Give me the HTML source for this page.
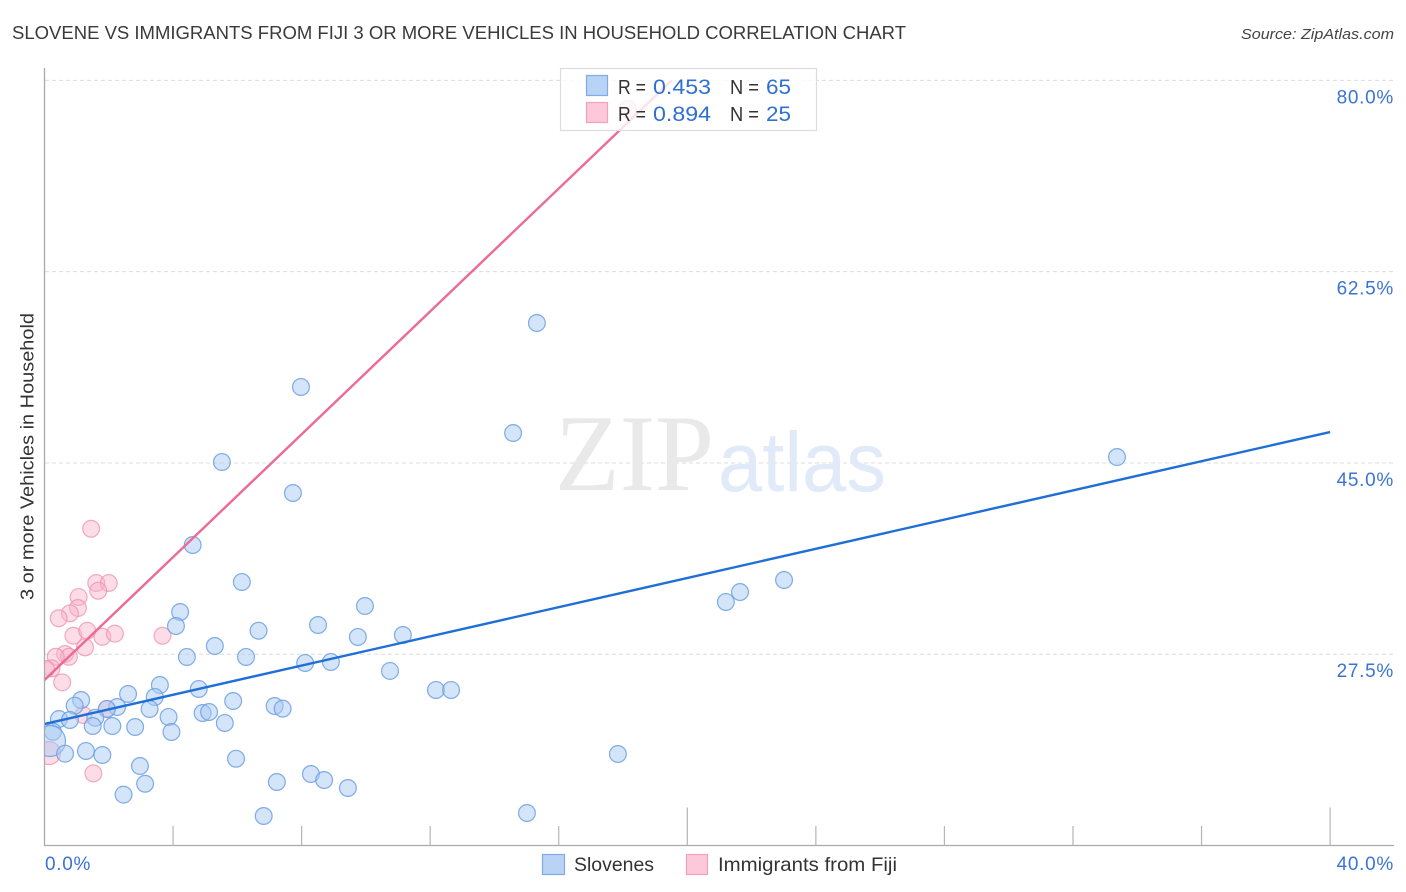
<!DOCTYPE html>
<html>
<head>
<meta charset="utf-8">
<title>Slovene vs Immigrants from Fiji chart</title>
<style>
html,body{margin:0;padding:0;background:#fff;width:1406px;height:892px;overflow:hidden}
svg{display:block;font-family:"Liberation Sans",sans-serif}
</style>
</head>
<body>
<svg id="chart" xmlns="http://www.w3.org/2000/svg" width="1406" height="892" viewBox="0 0 1406 892">
  <defs><clipPath id="plot-clip"><rect x="45" y="60" width="1350" height="785"/></clipPath></defs>
  <text x="12" y="39" font-size="18.6" fill="#3a3a3a" textLength="894" lengthAdjust="spacingAndGlyphs">SLOVENE VS IMMIGRANTS FROM FIJI 3 OR MORE VEHICLES IN HOUSEHOLD CORRELATION CHART</text>
  <text x="1394" y="39" font-size="15" font-style="italic" fill="#444" text-anchor="end" textLength="153" lengthAdjust="spacingAndGlyphs">Source: ZipAtlas.com</text>
  <g id="grid"></g>
  <g>
    <text x="555" y="490" font-family="'Liberation Serif',serif" font-size="109" fill="#e9e9e9" textLength="159" lengthAdjust="spacingAndGlyphs">ZIP</text>
    <text x="718" y="491" font-size="84" fill="#e0eaf8" textLength="168" lengthAdjust="spacingAndGlyphs">atlas</text>
  </g>
  <g id="axes"></g>
  <g id="marks" clip-path="url(#plot-clip)"></g>
  <g>
    <rect x="560.5" y="68.5" width="256" height="62" fill="#fff" fill-opacity="0.8" stroke="#dcdcdc" stroke-width="1.2"/>
    <rect x="586.5" y="75.5" width="21" height="20" fill="#b9d3f5" stroke="#7fabe6" stroke-width="1.2"/>
    <rect x="586.5" y="102.5" width="21" height="20" fill="#fdc8d9" stroke="#f2a2bc" stroke-width="1.2"/>
    <g font-size="20" fill="#333">
      <text x="618" y="94" textLength="28" lengthAdjust="spacingAndGlyphs">R =</text>
      <text x="730" y="94" textLength="29" lengthAdjust="spacingAndGlyphs">N =</text>
      <text x="618" y="121" textLength="28" lengthAdjust="spacingAndGlyphs">R =</text>
      <text x="730" y="121" textLength="29" lengthAdjust="spacingAndGlyphs">N =</text>
    </g>
    <g font-size="21" fill="#3070d2">
      <text x="653" y="94" textLength="58" lengthAdjust="spacingAndGlyphs">0.453</text>
      <text x="766" y="94" textLength="25" lengthAdjust="spacingAndGlyphs">65</text>
      <text x="653" y="121" textLength="58" lengthAdjust="spacingAndGlyphs">0.894</text>
      <text x="766" y="121" textLength="25" lengthAdjust="spacingAndGlyphs">25</text>
    </g>
  </g>
  <g>
    <rect x="542.5" y="854.5" width="22" height="20" fill="#b9d3f5" stroke="#7fabe6" stroke-width="1.2"/>
    <text x="574" y="871" font-size="19.5" fill="#333" textLength="80" lengthAdjust="spacingAndGlyphs">Slovenes</text>
    <rect x="686.5" y="854.5" width="21" height="20" fill="#fdc8d9" stroke="#f2a2bc" stroke-width="1.2"/>
    <text x="718" y="871" font-size="19.5" fill="#333" textLength="179" lengthAdjust="spacingAndGlyphs">Immigrants from Fiji</text>
  </g>
  <text transform="translate(33.5,600) rotate(-90)" font-size="18.5" fill="#333" textLength="287" lengthAdjust="spacingAndGlyphs">3 or more Vehicles in Household</text>
</svg>
<script>
const xTickValues = [4, 8, 12, 16, 20, 24, 28, 32, 36, 40];
const xMajorTicks = [20, 40];
const xEndLabels = ["0.0%", "40.0%"];
const yTickValues = [80, 62.5, 45, 27.5];
const yTickLabels = ["80.0%", "62.5%", "45.0%", "27.5%"];

const sloveneX = [15.32,7.98,14.58,33.37,5.52,7.73,4.61,6.14,23.01,21.64,21.20,9.97,4.22,4.09,8.51,6.66,9.75,11.15,5.30,4.43,6.27,8.11,8.91,10.75,12.18,12.65,4.80,3.59,2.60,3.43,1.14,5.87,0.94,2.26,1.94,3.27,7.16,7.41,4.92,5.12,3.86,1.58,0.45,0.79,5.61,1.50,2.11,2.82,3.95,0.26,0.17,0.64,1.29,1.80,17.84,5.96,2.97,8.29,8.70,7.23,3.13,9.44,2.46,15.01,6.82];
const sloveneY = [57.80,51.95,47.74,45.54,45.09,42.25,37.49,34.11,34.29,33.19,32.28,31.91,31.36,30.08,30.17,29.65,29.08,29.26,28.25,27.25,27.25,26.70,26.79,25.97,24.23,24.23,24.32,24.68,23.86,23.59,23.31,23.22,22.79,22.67,22.49,22.49,22.76,22.52,22.12,22.21,21.76,21.69,21.57,21.48,21.21,20.93,20.93,20.84,20.38,20.41,19.56,18.40,18.65,18.28,18.37,17.94,17.27,16.54,15.99,15.81,15.65,15.26,14.65,12.97,12.70];
const sloveneWeight = [1,1,1,1,1,1,1,1,1,1,1,1,1,1,1,1,1,1,1,1,1,1,1,1,1,1,1,1,1,1,1,1,1,1,1,1,1,1,1,1,1,1,1,1,1,1,1,1,1,1,3,1,1,1,1,1,1,1,1,1,1,1,1,1,1];

const fijiX = [1.45,1.61,2.00,1.67,1.06,1.04,0.79,0.44,0.90,1.33,1.80,2.19,3.67,1.26,0.64,0.76,0.35,0.22,0.05,0.55,1.21,1.94,1.52,0.14,18.15];
const fijiY = [38.98,34.02,34.02,33.31,32.74,31.73,31.24,30.79,29.19,29.65,29.10,29.38,29.19,28.13,27.52,27.27,27.27,26.21,26.15,24.93,21.94,22.49,16.60,18.46,77.38];
const fijiWeight = [1,1,1,1,1,1,1,1,1,1,1,1,1,1,1,1,1,1,1,1,1,1,1,2,1];

const sloveneTrendX = [0, 40];
const sloveneTrendY = [21.12, 47.83];
const fijiTrendX = [0, 19.52];
const fijiTrendY = [25.14, 80];

const NS = 'http://www.w3.org/2000/svg';
function xScale(v){ return 44.5 + v * 32.14; }
function yScale(v){ return 80.4 + (80 - v) * 10.93; }
function radiusFor(w){ return w === 1 ? 8.4 : (w === 2 ? 11.5 : 15.5); }
function make(tag, parent, attrs, txt){
  const el = document.createElementNS(NS, tag);
  for (const k in attrs) el.setAttribute(k, attrs[k]);
  if (txt !== undefined) el.textContent = txt;
  parent.appendChild(el);
  return el;
}
const grid = document.getElementById('grid');
const axes = document.getElementById('axes');
const marks = document.getElementById('marks');

yTickValues.forEach(function(v, i){
  const line = make('line', grid, {x1:45, x2:1393, y1:yScale(v), y2:yScale(v), stroke:'#dcdcdc', 'stroke-width':1, 'stroke-dasharray':'4 3'});
  
  
  const label = make('text', axes, {x:1394, y:yScale(v)+23, 'font-size':19, 'letter-spacing':0.7, fill:'#3b73d4', 'text-anchor':'end'}, yTickLabels[i]);
  
  
});

const yAxisLine = make('line', axes, {x1:44.5, x2:44.5, y1:68, y2:846, stroke:'#aaa', 'stroke-width':1.3});


const xAxisLine = make('line', axes, {x1:44, x2:1394, y1:845.5, y2:845.5, stroke:'#aaa', 'stroke-width':1.3});



xTickValues.forEach(function(v){
  const top = xMajorTicks.indexOf(v) >= 0 ? 807.5 : 826;
  const tick = make('line', axes, {x1:xScale(v), x2:xScale(v), y1:top, y2:845.5, stroke:'#b5b5b5', 'stroke-width':1.2});
  
  
});
const xLabelLeft = make('text', axes, {x:45, y:870, 'font-size':19, 'letter-spacing':0.7, fill:'#3b73d4'}, xEndLabels[0]);


const xLabelRight = make('text', axes, {x:1394, y:870, 'font-size':19, 'letter-spacing':0.7, fill:'#3b73d4', 'text-anchor':'end'}, xEndLabels[1]);



fijiX.forEach(function(v, i){
  const c = make('circle', marks, {cx:xScale(v), cy:yScale(fijiY[i]), r:radiusFor(fijiWeight[i]), fill:'#f9b4ca', 'fill-opacity':0.45, stroke:'#ee8fae', 'stroke-opacity':0.75, 'stroke-width':1.2});
  
  
});
sloveneX.forEach(function(v, i){
  const c = make('circle', marks, {cx:xScale(v), cy:yScale(sloveneY[i]), r:radiusFor(sloveneWeight[i]), fill:'#a9c9f3', 'fill-opacity':0.5, stroke:'#6a9fe2', 'stroke-opacity':0.85, 'stroke-width':1.2});
  
  
});
const fijiTrend = make('line', marks, {x1:xScale(fijiTrendX[0]), y1:yScale(fijiTrendY[0]), x2:xScale(fijiTrendX[1]), y2:yScale(fijiTrendY[1]), stroke:'#ec6a97', 'stroke-width':2.4});


const sloveneTrend = make('line', marks, {x1:xScale(sloveneTrendX[0]), y1:yScale(sloveneTrendY[0]), x2:xScale(sloveneTrendX[1]), y2:yScale(sloveneTrendY[1]), stroke:'#1f6fd6', 'stroke-width':2.4});


</script>
</body>
</html>
